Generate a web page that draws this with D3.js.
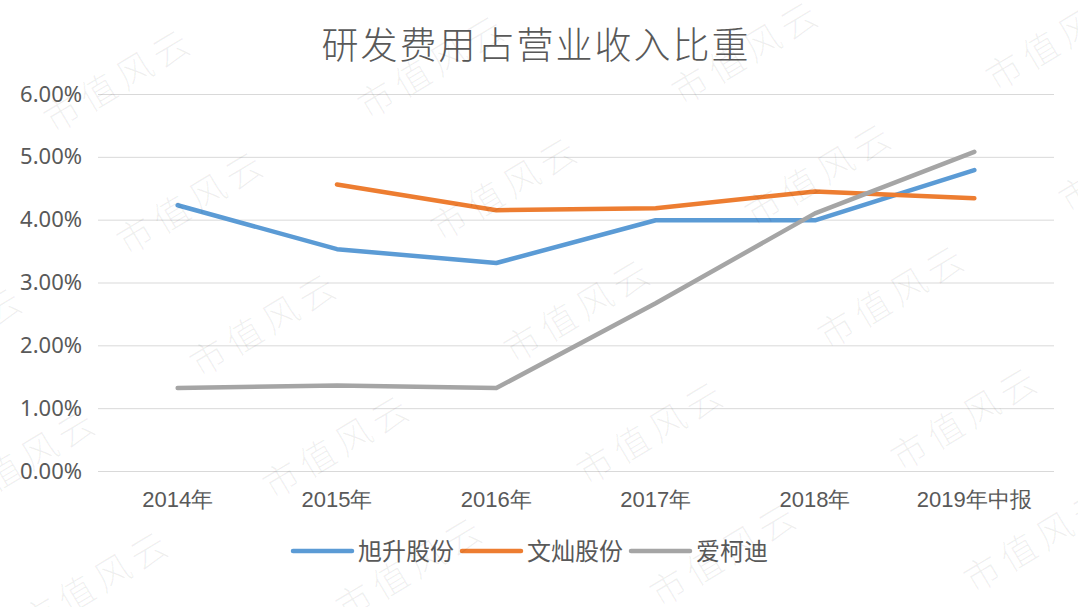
<!DOCTYPE html>
<html>
<head>
<meta charset="utf-8">
<script src="https://cdn.jsdelivr.net/npm/d3@7"></script>
<style>
  body { margin: 0; background: #fff; }
  svg { display: block; font-family: "Noto Sans CJK SC", "Noto Sans", sans-serif; }
</style>
</head>
<body>
<div id="chart"></div>
<script>
// data
const categories = ["2014年", "2015年", "2016年", "2017年", "2018年", "2019年中报"];
const seriesNames = ["旭升股份", "文灿股份", "爱柯迪"];
const xusheng = [0.0423, 0.0353, 0.0331, 0.0399, 0.0399, 0.0479];
const wencan = [null, 0.0456, 0.0415, 0.0418, 0.0445, 0.0434];
const aikedi = [0.0132, 0.0136, 0.0132, 0.0267, 0.0410, 0.0508];
const yTicks = [0, 0.01, 0.02, 0.03, 0.04, 0.05, 0.06];
const colors = ["#5b9bd5", "#ed7d31", "#a5a5a5"];

const W = 1078, H = 607;
const plot = {left: 98, right: 1054, top: 94, bottom: 471};

const svg = d3.select("#chart").append("svg")
    .attr("width", W)
    .attr("height", H);

// title
svg.append("text")
    .attr("x", 536)
    .attr("y", 59)
    .attr("text-anchor", "middle")
    .style("font-size", "37px")
    .style("font-weight", 300)
    .style("letter-spacing", "2px")
    .style("fill", "#595959")
    .text("研发费用占营业收入比重");

const x = d3.scaleBand()
    .domain(categories)
    .range([plot.left, plot.right]);

const y = d3.scaleLinear()
    .domain([0, 0.06])
    .range([plot.bottom, plot.top]);

// gridlines + y labels
const yAxis = d3.axisLeft(y)
    .tickValues(yTicks)
    .tickFormat(d3.format(".2%"))
    .tickSize(-(plot.right - plot.left))
    .tickPadding(16);

const yG = svg.append("g")
    .attr("transform", `translate(${plot.left},0)`)
    .call(yAxis);
yG.select(".domain").remove();
yG.selectAll(".tick line").attr("stroke", "#d9d9d9").attr("stroke-width", 1);
yG.selectAll(".tick text")
    .attr("fill", "#595959")
    .style("font-size", "22px")
    .style("font-family", "'Noto Sans', sans-serif");

// x labels
const xAxis = d3.axisBottom(x).tickSize(0).tickPadding(20);
const xG = svg.append("g")
    .attr("transform", `translate(0,${plot.bottom})`)
    .call(xAxis);
xG.select(".domain").remove();
xG.selectAll(".tick text")
    .attr("fill", "#595959")
    .style("font-size", "22px");

// lines
const allSeries = [xusheng, wencan, aikedi];
const line = d3.line()
    .defined(d => d.v != null)
    .x(d => x(d.c) + x.bandwidth() / 2)
    .y(d => y(d.v));

allSeries.forEach(function(vals, i) {
    const pts = categories.map((c, j) => ({c: c, v: vals[j]}));
    svg.append("path")
        .datum(pts)
        .attr("fill", "none")
        .attr("stroke", colors[i])
        .attr("stroke-width", 4.5)
        .attr("stroke-linejoin", "round")
        .attr("stroke-linecap", "round")
        .attr("d", line);
});

// legend
const legend = svg.append("g").attr("transform", "translate(293,551)");
let lx = 0;
seriesNames.forEach(function(name, i) {
    legend.append("line")
        .attr("x1", lx).attr("x2", lx + 59)
        .attr("y1", 0).attr("y2", 0)
        .attr("stroke", colors[i])
        .attr("stroke-width", 4.5)
        .attr("stroke-linecap", "round");
    const t = legend.append("text")
        .attr("x", lx + 65)
        .attr("y", 0)
        .attr("dy", "0.36em")
        .style("font-size", "24px")
        .style("fill", "#595959")
        .text(name);
    lx += 65 + t.node().getComputedTextLength() + 8;
});

// watermark 市值风云, tiled
const wm = svg.append("g").attr("pointer-events", "none");
for (let r = -2; r < 6; r++) {
    for (let c = -2; c < 6; c++) {
        const cx = 119 + r * 73 + c * 314;
        const cy = 80 + r * 122 - c * 14;
        if (cx < -120 || cx > W + 120 || cy < -80 || cy > H + 80) continue;
        wm.append("text")
            .attr("transform", `translate(${cx},${cy}) rotate(-31)`)
            .attr("text-anchor", "middle")
            .attr("dy", "0.36em")
            .style("font-size", "36px")
            .style("font-weight", 300)
            .style("letter-spacing", "6px")
            .style("fill", "#000")
            .style("fill-opacity", 0.06)
            .text("市值风云");
    }
}
</script>
</body>
</html>
